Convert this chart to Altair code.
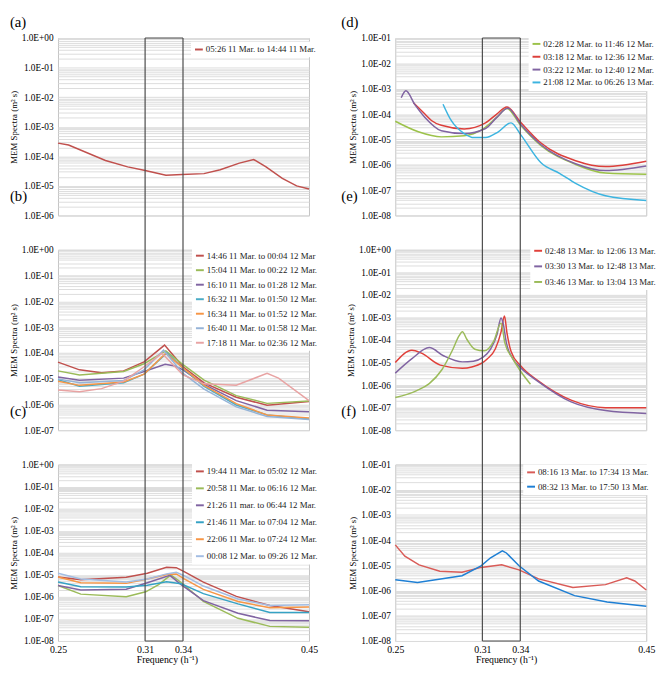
import altair as alt
import pandas as pd

FONT = "Liberation Serif, Times New Roman, Times, serif"

# ---------------- data ----------------
X_TICKS = [0.25, 0.31, 0.34, 0.45]
BOX = [0.31, 0.34]

A_NAMES = ["05:26 11 Mar. to 14:44 11 Mar."]
A_COLORS = ["#C0504D"]
A_X = [[0.25, 0.2573, 0.2827, 0.298, 0.3093, 0.3265, 0.3392, 0.3583, 0.3725, 0.3892, 0.4017, 0.4125, 0.4267, 0.4392, 0.45]]
A_Y = [[2.8e-4, 2.4e-4, 7.2e-5, 4.4e-5, 3.4e-5, 2.3e-5, 2.45e-5, 2.6e-5, 3.5e-5, 5.9e-5, 7.8e-5, 4.4e-5, 1.8e-5, 1.0e-5, 7.9e-6]]

B_NAMES = ["14:46 11 Mar. to 00:04 12 Mar",
           "15:04 11 Mar. to 00:22 12 Mar.",
           "16:10 11 Mar. to 01:28 12 Mar.",
           "16:32 11 Mar. to 01:50 12 Mar.",
           "16:34 11 Mar. to 01:52 12 Mar.",
           "16:40 11 Mar. to 01:58 12 Mar.",
           "17:18 11 Mar. to 02:36 12 Mar."]
B_COLORS = ["#C0504D", "#9BBB59", "#8064A2", "#4BACC6", "#F79646", "#95B3D7", "#E8A3A3"]
B_X = [
    [0.25, 0.2648, 0.28, 0.2952, 0.3093, 0.3254, 0.34, 0.3584, 0.3865, 0.4134, 0.45],
    [0.25, 0.2648, 0.2952, 0.3093, 0.3264, 0.34, 0.3584, 0.3865, 0.4134, 0.45],
    [0.25, 0.2648, 0.2952, 0.3093, 0.3259, 0.3336, 0.34, 0.3584, 0.3865, 0.4134, 0.45],
    [0.25, 0.2648, 0.2952, 0.3093, 0.3272, 0.34, 0.3584, 0.3865, 0.4134, 0.45],
    [0.25, 0.2648, 0.2952, 0.3093, 0.3264, 0.34, 0.3584, 0.3865, 0.4134, 0.45],
    [0.25, 0.2648, 0.2952, 0.3093, 0.3246, 0.34, 0.3584, 0.3865, 0.4134, 0.45],
    [0.25, 0.2648, 0.28, 0.2952, 0.3093, 0.3233, 0.34, 0.3584, 0.3865, 0.4134, 0.4234, 0.45],
]
B_Y = [
    [4.4e-5, 2.2e-5, 1.7e-5, 2.0e-5, 4.5e-5, 2.0e-4, 2.9e-5, 6.9e-6, 1.9e-6, 9.3e-7, 1.3e-6],
    [2.0e-5, 1.4e-5, 1.9e-5, 3.8e-5, 1.2e-4, 3.5e-5, 8.7e-6, 2.2e-6, 1.1e-6, 1.35e-6],
    [1.15e-5, 8.7e-6, 1.05e-5, 1.9e-5, 3.6e-5, 3.1e-5, 2.2e-5, 6.0e-6, 1.4e-6, 6.0e-7, 5.2e-7],
    [9.2e-6, 5.1e-6, 6.9e-6, 1.5e-5, 1.0e-4, 2.5e-5, 5.0e-6, 9.5e-7, 3.9e-7, 2.7e-7],
    [8.0e-6, 5.5e-6, 7.4e-6, 1.5e-5, 9.6e-5, 2.6e-5, 5.5e-6, 1.07e-6, 3.9e-7, 3.0e-7],
    [9.8e-6, 6.9e-6, 8.5e-6, 2.2e-5, 1.27e-4, 1.6e-5, 3.9e-6, 8.0e-7, 3.4e-7, 2.6e-7],
    [3.6e-6, 3.1e-6, 4.1e-6, 8.0e-6, 2.9e-5, 9.6e-5, 1.4e-5, 6.3e-6, 5.6e-6, 1.6e-5, 1.05e-5, 1.4e-6],
]

C_NAMES = ["19:44 11 Mar. to 05:02 12 Mar.",
           "20:58 11 Mar. to 06:16 12 Mar.",
           "21:26 11 mar. to 06:44 12 Mar.",
           "21:46 11 Mar. to 07:04 12 Mar.",
           "22:06 11 Mar. to 07:24 12  Mar.",
           "00:08 12 Mar. to 09:26 12 Mar."]
C_COLORS = ["#C0504D", "#9BBB59", "#8064A2", "#35A2C4", "#F79646", "#A3BDE3"]
C_X = [
    [0.25, 0.2657, 0.297, 0.3118, 0.327, 0.3347, 0.341, 0.3578, 0.3866, 0.4158, 0.45],
    [0.25, 0.2657, 0.297, 0.3105, 0.3207, 0.3304, 0.3373, 0.3578, 0.388, 0.4158, 0.45],
    [0.25, 0.2657, 0.297, 0.3118, 0.3296, 0.3385, 0.3578, 0.388, 0.4158, 0.45],
    [0.25, 0.2657, 0.297, 0.3118, 0.327, 0.3385, 0.3578, 0.388, 0.4158, 0.45],
    [0.25, 0.2657, 0.297, 0.3118, 0.3283, 0.3347, 0.341, 0.3578, 0.388, 0.4158, 0.45],
    [0.25, 0.2657, 0.297, 0.3118, 0.327, 0.3347, 0.341, 0.3578, 0.388, 0.4158, 0.45],
]
C_Y = [
    [7.9e-6, 6.0e-6, 7.7e-6, 1.18e-5, 2.2e-5, 2.1e-5, 1.4e-5, 4.7e-6, 1.05e-6, 4.1e-7, 2.1e-7],
    [3.3e-6, 1.33e-6, 1.02e-6, 1.7e-6, 3.6e-6, 1.0e-5, 5.1e-6, 6.2e-7, 1.07e-7, 4.6e-8, 4.2e-8],
    [3.3e-6, 2.06e-6, 2.2e-6, 4.4e-6, 9.4e-6, 3.6e-6, 6.8e-7, 1.8e-7, 8.5e-8, 8.2e-8],
    [4.7e-6, 2.9e-6, 2.8e-6, 3.4e-6, 4.8e-6, 3.9e-6, 1.4e-6, 4.8e-7, 1.95e-7, 1.95e-7],
    [7.9e-6, 4.4e-6, 4.1e-6, 6.5e-6, 1.07e-5, 1.1e-5, 6.5e-6, 2.2e-6, 6.2e-7, 3.2e-7, 3.5e-7],
    [1.18e-5, 6.5e-6, 4.7e-6, 6.5e-6, 1.1e-5, 1.3e-5, 9.1e-6, 3.1e-6, 8.0e-7, 4.1e-7, 4.4e-7],
]

D_NAMES = ["02:28 12 Mar. to 11:46 12 Mar.",
           "03:18 12 Mar. to 12:36 12 Mar.",
           "03:22 12 Mar. to 12:40 12 Mar.",
           "21:08 12 Mar. to 06:26 13 Mar."]
D_COLORS = ["#9CC24A", "#DC3F3B", "#8064A2", "#3CB4E0"]
D_X = [
    [0.25, 0.2659, 0.2817, 0.2975, 0.31, 0.3214, 0.3294, 0.3403, 0.3581, 0.3883, 0.4144, 0.45],
    [0.2625, 0.2704, 0.2749, 0.2817, 0.2975, 0.3125, 0.3214, 0.3294, 0.3403, 0.3581, 0.3883, 0.4144, 0.45],
    [0.2541, 0.2573, 0.2636, 0.2704, 0.2817, 0.2975, 0.3125, 0.3214, 0.3302, 0.3403, 0.3581, 0.3883, 0.4144, 0.45],
    [0.2829, 0.2885, 0.2975, 0.3043, 0.3125, 0.3226, 0.3327, 0.3403, 0.3581, 0.3746, 0.3883, 0.4144, 0.45],
]
D_Y = [
    [5.2e-5, 2.0e-5, 1.26e-5, 1.4e-5, 2.5e-5, 7.4e-5, 1.65e-4, 3.6e-5, 5.7e-6, 1.03e-6, 4.7e-7, 4.2e-7],
    [2.8e-4, 1.0e-4, 5.6e-5, 3.6e-5, 2.6e-5, 4.5e-5, 1.0e-4, 1.9e-4, 4.8e-5, 7.2e-6, 1.45e-6, 8.5e-7, 1.38e-6],
    [4.4e-4, 8.3e-4, 2.3e-4, 7.4e-5, 2.2e-5, 1.7e-5, 2.7e-5, 7.4e-5, 1.7e-4, 4.0e-5, 6.2e-6, 1.1e-6, 5.9e-7, 8.9e-7],
    [2.45e-4, 5.6e-5, 1.7e-5, 1.18e-5, 1.18e-5, 2.0e-5, 4.5e-5, 1.55e-5, 1.2e-6, 4.5e-7, 1.85e-7, 6.0e-8, 3.9e-8],
]

E_NAMES = ["02:48 13 Mar. to 12:06 13 Mar.",
           "03:30 13 Mar. to 12:48 13 Mar.",
           "03:46 13 Mar. to 13:04 13 Mar."]
E_COLORS = ["#E0403A", "#8064A2", "#9BBB59"]
E_X = [
    [0.25, 0.2615, 0.268, 0.281, 0.2962, 0.3092, 0.314, 0.3203, 0.3248, 0.3275, 0.3295, 0.3328, 0.3403, 0.356, 0.3844, 0.4144, 0.45],
    [0.25, 0.2615, 0.2734, 0.2832, 0.2962, 0.3038, 0.3103, 0.3165, 0.3215, 0.3248, 0.3265, 0.329, 0.334, 0.3403, 0.356, 0.3844, 0.4144, 0.45],
    [0.25, 0.2648, 0.2734, 0.2821, 0.2897, 0.294, 0.2962, 0.2994, 0.3048, 0.3115, 0.319, 0.3248, 0.3278, 0.334, 0.3403, 0.3489],
]
E_Y = [
    [1.0e-5, 3.5e-5, 2.6e-5, 7.7e-6, 5.6e-6, 9.1e-6, 1.48e-5, 4.1e-5, 2.3e-4, 1.15e-3, 2.0e-4, 3.0e-5, 7.2e-6, 1.5e-6, 2.15e-7, 1.0e-7, 1.0e-7],
    [3.4e-6, 1.5e-5, 4.6e-5, 2.0e-5, 1.07e-5, 1.15e-5, 1.7e-5, 3.9e-5, 1.7e-4, 9.5e-4, 5.3e-4, 7.5e-5, 1.5e-5, 5.9e-6, 1.4e-6, 1.8e-7, 7.4e-8, 5.5e-8],
    [2.8e-7, 5.7e-7, 1.17e-6, 4.8e-6, 3.9e-5, 1.55e-4, 2.3e-4, 1.05e-4, 3.9e-5, 3.3e-5, 8.9e-5, 5.6e-4, 7.5e-5, 1.5e-5, 4.1e-6, 1.1e-6],
]

F_NAMES = ["08:16 13 Mar. to 17:34 13 Mar.",
           "08:32 13 Mar. to 17:50 13 Mar."]
F_COLORS = ["#D95B57", "#1E7FD4"]
F_X = [
    [0.25, 0.2566, 0.2664, 0.2807, 0.296, 0.3091, 0.3253, 0.339, 0.356, 0.3859, 0.4144, 0.4329, 0.44, 0.45],
    [0.25, 0.2653, 0.296, 0.3091, 0.3165, 0.3258, 0.329, 0.339, 0.356, 0.3874, 0.4158, 0.45],
]
F_Y = [
    [6.5e-5, 2.3e-5, 1.04e-5, 5.8e-6, 5.3e-6, 8.3e-6, 1.05e-5, 6.6e-6, 2.9e-6, 1.33e-6, 1.72e-6, 3.2e-6, 2.4e-6, 1.05e-6],
    [2.7e-6, 2.1e-6, 3.9e-6, 9.6e-6, 2.0e-5, 3.8e-5, 3.1e-5, 9.6e-6, 2.4e-6, 6.3e-7, 3.5e-7, 2.4e-7],
]

# ---------------- layout ----------------
W = 256
ROW_GAP = 35
COL_GAP = 88
Y_TITLE = "MEM Spectra (m\u00b2 s)"
X_TITLE = "Frequency (h\u207b\u00b9)"

E_EXPR = "round(log(datum.value)/LN10)"
LABEL_EXPR = (f"abs(log(datum.value)/LN10 - {E_EXPR}) < 0.01 ? "
              f"'1.0E' + ({E_EXPR} < 0 ? '-' : '+') + (abs({E_EXPR}) < 10 ? '0' : '') + abs({E_EXPR}) : ''")


def log_ticks(lo, hi):
    vals = []
    for k in range(lo, hi):
        for m in range(1, 10):
            vals.append(float(f"{m}e{k}"))
    vals.append(float(f"1e{hi}"))
    return vals


def panel(names, colors, xs, ys, lo, hi, height, label, title_dx, title_offset,
          lx, ly, row_pad, top=False, bottom=False, interp="linear", title_x=112):
    rows = []
    for name, xv, yv in zip(names, xs, ys):
        for k, (f, v) in enumerate(zip(xv, yv)):
            rows.append({"s": name, "f": f, "v": v, "k": k})
    df = pd.DataFrame(rows)

    xscale = alt.Scale(domain=X_TICKS, range=[0, 0.347 * W, 0.498 * W, W], nice=False, zero=False)
    if bottom:
        xaxis = alt.Axis(values=X_TICKS, format=".2f", grid=False, ticks=False, domain=False,
                         labelFlush=False, labelFontSize=10, labelPadding=4, labelFont=FONT,
                         title=X_TITLE, titleFontSize=10, titleFont=FONT, titleFontWeight="normal",
                         titlePadding=0, titleX=title_x, titleColor="#000", labelColor="#000")
    else:
        xaxis = None

    yaxis = alt.Axis(values=log_ticks(lo, hi), labelExpr=LABEL_EXPR, grid=True, gridColor="#dcdcdc",
                     gridWidth=1, ticks=False, domain=False, labelOverlap=False,
                     labelFont=FONT, labelFontSize=9.5, labelPadding=5, labelColor="#000",
                     title=Y_TITLE, titleFont=FONT, titleFontSize=9, titleFontWeight="normal",
                     titlePadding=3, titleColor="#000")

    lines = alt.Chart(df).mark_line(strokeWidth=1.5, interpolate=interp).encode(
        x=alt.X("f:Q", scale=xscale, axis=xaxis),
        y=alt.Y("v:Q", scale=alt.Scale(type="log", domain=[10.0 ** lo, 10.0 ** hi], nice=False), axis=yaxis),
        color=alt.Color("s:N", scale=alt.Scale(domain=names, range=colors),
                        legend=alt.Legend(title=None, orient="none", legendX=lx, legendY=ly,
                                          symbolType="stroke", symbolSize=64, symbolStrokeWidth=2,
                                          labelFont=FONT, labelFontSize=9, labelColor="#1a1a1a",
                                          labelOffset=2, fillColor="white", padding=3,
                                          rowPadding=row_pad, labelLimit=220)),
        order=alt.Order("k:Q"),
    )

    box_df = pd.DataFrame({"f": BOX})
    vrules = alt.Chart(box_df).mark_rule(color="#4a4a4a", strokeWidth=1.2).encode(
        x=alt.X("f:Q", scale=xscale, axis=xaxis),
        y=alt.value(0 if top else -ROW_GAP),
        y2=alt.value(height),
    )
    layers = [lines, vrules]
    hdf = pd.DataFrame({"f": [BOX[0]], "f2": [BOX[1]]})
    if top:
        layers.append(alt.Chart(hdf).mark_rule(color="#4a4a4a", strokeWidth=1.2).encode(
            x=alt.X("f:Q", scale=xscale, axis=xaxis), x2="f2:Q", y=alt.value(0)))
    if bottom:
        layers.append(alt.Chart(hdf).mark_rule(color="#4a4a4a", strokeWidth=1.2).encode(
            x=alt.X("f:Q", scale=xscale, axis=xaxis), x2="f2:Q", y=alt.value(height)))

    return alt.layer(*layers).properties(
        width=W, height=height,
        title=alt.TitleParams(text=label, anchor="start", frame="group", dx=title_dx,
                              offset=title_offset, fontSize=15, font=FONT,
                              fontWeight="normal", color="#000"),
    )


pa = panel(A_NAMES, A_COLORS, A_X, A_Y, -6, 0, 181, "(a)", -49, 3, 135.7, 3.7, 5, top=True)
pb = panel(B_NAMES, B_COLORS, B_X, B_Y, -7, 0, 184, "(b)", -49, 11, 136.7, -2, 4.8)
pc = panel(C_NAMES, C_COLORS, C_X, C_Y, -8, 0, 180, "(c)", -49, 11, 136.7, -1, 7.3,
           bottom=True, title_x=111)
pd_ = panel(D_NAMES, D_COLORS, D_X, D_Y, -8, -1, 181, "(d)", -55, 3, 136, -2, 3.1,
            top=True, interp="monotone")
pe = panel(E_NAMES, E_COLORS, E_X, E_Y, -8, 0, 184, "(e)", -55, 11, 137.7, -7, 5.9,
           interp="monotone")
pf = panel(F_NAMES, F_COLORS, F_X, F_Y, -8, -1, 180, "(f)", -55, 11, 130.5, 0, 4.6,
           bottom=True, title_x=113)

chart = alt.concat(pa, pd_, pb, pe, pc, pf, columns=2,
                   spacing={"row": ROW_GAP, "column": COL_GAP}, bounds="flush").resolve_scale(
    x="independent", y="independent", color="independent"
).properties(padding=0, background="white").configure_view(
    stroke="#c4c4c4", strokeWidth=1
)

chart.save("out.html", embed_options={"renderer": "svg", "actions": False})
